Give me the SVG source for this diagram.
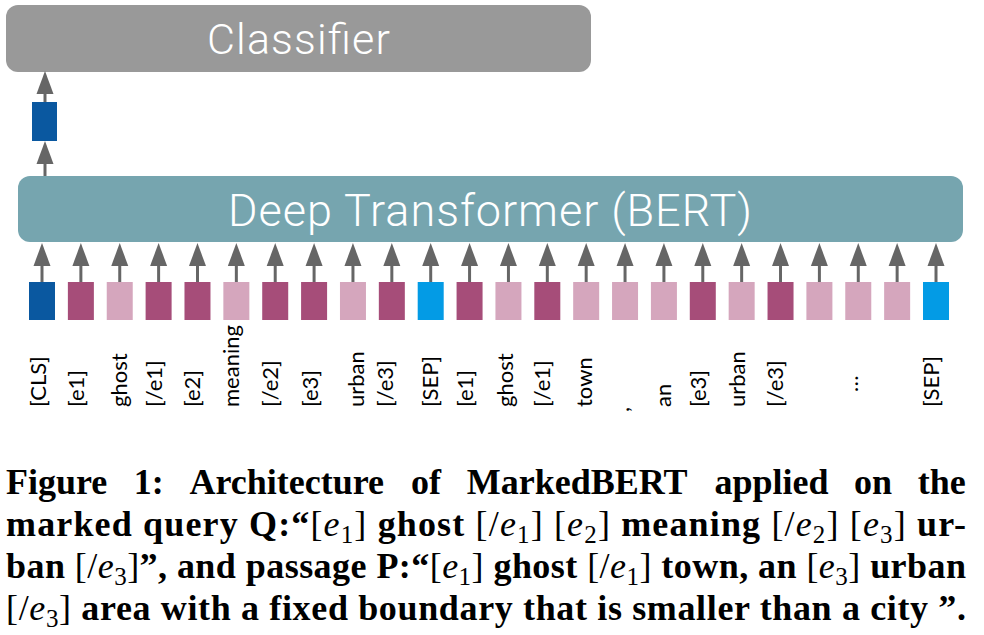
<svg xmlns="http://www.w3.org/2000/svg" width="984" height="635" viewBox="0 0 984 635">
<style>
.big{font-family:Roboto,"Liberation Sans",sans-serif;font-weight:300;fill:#ffffff;text-anchor:middle}
.tok{font-family:Lato,"Liberation Sans",sans-serif;font-size:22px;fill:#000}
.cls{fill:#0a58a0}
.ent{fill:#a64d79}
.wrd{fill:#d5a6bd}
.sep{fill:#039be5}
.arr{stroke:#666666;stroke-width:3;fill:none;marker-end:url(#ah)}
.cap{font-family:"Liberation Serif",serif;font-size:36px;font-weight:bold;fill:#000}
.m{font-weight:normal}
.mi{font-weight:normal;font-style:italic}
.sub{font-weight:normal;font-size:25px}
</style>
<defs>
<marker id="ah" markerUnits="userSpaceOnUse" markerWidth="24" markerHeight="18" viewBox="0 -9 24 18" refX="0" refY="0" orient="auto">
<path d="M0,-8.5 L23,0 L0,8.5 z" fill="#666666"/>
</marker>
</defs>
<rect width="984" height="635" fill="#ffffff"/>
<g id="classifier">
<rect x="6" y="5" width="585" height="67" rx="12" fill="#999999"/>
<text class="big" x="298.5" y="54" font-size="43" textLength="183" lengthAdjust="spacing">Classifier</text>
</g>
<g id="cls-output">
<rect x="32" y="102" width="25" height="39" class="cls"/>
</g>
<g id="transformer">
<rect x="18" y="176" width="945" height="66" rx="12" fill="#76a5af"/>
<text class="big" x="490" y="226" font-size="45" textLength="524" lengthAdjust="spacing">Deep Transformer (BERT)</text>
</g>
<g id="tokens">
<rect x="29" y="282" width="26" height="38" class="cls"/>
<rect x="67.87" y="282" width="26" height="38" class="ent"/>
<rect x="106.74" y="282" width="26" height="38" class="wrd"/>
<rect x="145.61" y="282" width="26" height="38" class="ent"/>
<rect x="184.48" y="282" width="26" height="38" class="ent"/>
<rect x="223.35" y="282" width="26" height="38" class="wrd"/>
<rect x="262.22" y="282" width="26" height="38" class="ent"/>
<rect x="301.09" y="282" width="26" height="38" class="ent"/>
<rect x="339.96" y="282" width="26" height="38" class="wrd"/>
<rect x="378.83" y="282" width="26" height="38" class="ent"/>
<rect x="417.7" y="282" width="26" height="38" class="sep"/>
<rect x="456.57" y="282" width="26" height="38" class="ent"/>
<rect x="495.44" y="282" width="26" height="38" class="wrd"/>
<rect x="534.31" y="282" width="26" height="38" class="ent"/>
<rect x="573.18" y="282" width="26" height="38" class="wrd"/>
<rect x="612.05" y="282" width="26" height="38" class="wrd"/>
<rect x="650.92" y="282" width="26" height="38" class="wrd"/>
<rect x="689.79" y="282" width="26" height="38" class="ent"/>
<rect x="728.66" y="282" width="26" height="38" class="wrd"/>
<rect x="767.53" y="282" width="26" height="38" class="ent"/>
<rect x="806.4" y="282" width="26" height="38" class="wrd"/>
<rect x="845.27" y="282" width="26" height="38" class="wrd"/>
<rect x="884.14" y="282" width="26" height="38" class="wrd"/>
<rect x="923.01" y="282" width="26" height="38" class="sep"/>
</g>
<g id="connectors">
<line class="arr" x1="45" y1="102" x2="45" y2="94"/>
<line class="arr" x1="45" y1="176" x2="45" y2="164"/>
<line class="arr" x1="42" y1="282" x2="42" y2="266"/>
<line class="arr" x1="80.87" y1="282" x2="80.87" y2="266"/>
<line class="arr" x1="119.74" y1="282" x2="119.74" y2="266"/>
<line class="arr" x1="158.61" y1="282" x2="158.61" y2="266"/>
<line class="arr" x1="197.48" y1="282" x2="197.48" y2="266"/>
<line class="arr" x1="236.35" y1="282" x2="236.35" y2="266"/>
<line class="arr" x1="275.22" y1="282" x2="275.22" y2="266"/>
<line class="arr" x1="314.09" y1="282" x2="314.09" y2="266"/>
<line class="arr" x1="352.96" y1="282" x2="352.96" y2="266"/>
<line class="arr" x1="391.83" y1="282" x2="391.83" y2="266"/>
<line class="arr" x1="430.7" y1="282" x2="430.7" y2="266"/>
<line class="arr" x1="469.57" y1="282" x2="469.57" y2="266"/>
<line class="arr" x1="508.44" y1="282" x2="508.44" y2="266"/>
<line class="arr" x1="547.31" y1="282" x2="547.31" y2="266"/>
<line class="arr" x1="586.18" y1="282" x2="586.18" y2="266"/>
<line class="arr" x1="625.05" y1="282" x2="625.05" y2="266"/>
<line class="arr" x1="663.92" y1="282" x2="663.92" y2="266"/>
<line class="arr" x1="702.79" y1="282" x2="702.79" y2="266"/>
<line class="arr" x1="741.66" y1="282" x2="741.66" y2="266"/>
<line class="arr" x1="780.53" y1="282" x2="780.53" y2="266"/>
<line class="arr" x1="819.4" y1="282" x2="819.4" y2="266"/>
<line class="arr" x1="858.27" y1="282" x2="858.27" y2="266"/>
<line class="arr" x1="897.14" y1="282" x2="897.14" y2="266"/>
<line class="arr" x1="936.01" y1="282" x2="936.01" y2="266"/>
</g>
<g id="token-labels">
<text class="tok" transform="translate(46,407) rotate(-90)">[CLS]</text>
<text class="tok" transform="translate(84,407) rotate(-90)">[e1]</text>
<text class="tok" transform="translate(127,407) rotate(-90)">ghost</text>
<text class="tok" transform="translate(162,407) rotate(-90)">[/e1]</text>
<text class="tok" transform="translate(200,407) rotate(-90)">[e2]</text>
<text class="tok" transform="translate(239,407) rotate(-90)">meaning</text>
<text class="tok" transform="translate(278,407) rotate(-90)">[/e2]</text>
<text class="tok" transform="translate(318,407) rotate(-90)">[e3]</text>
<text class="tok" transform="translate(364,407) rotate(-90)">urban</text>
<text class="tok" transform="translate(393,407) rotate(-90)">[/e3]</text>
<text class="tok" transform="translate(438,407) rotate(-90)">[SEP]</text>
<text class="tok" transform="translate(473,407) rotate(-90)">[e1]</text>
<text class="tok" transform="translate(513,407) rotate(-90)">ghost</text>
<text class="tok" transform="translate(550,407) rotate(-90)">[/e1]</text>
<text class="tok" transform="translate(592,407) rotate(-90)">town</text>
<text class="tok" transform="translate(629,412) rotate(-90)">,</text>
<text class="tok" transform="translate(671,407) rotate(-90)">an</text>
<text class="tok" transform="translate(706,407) rotate(-90)">[e3]</text>
<text class="tok" transform="translate(745,407) rotate(-90)">urban</text>
<text class="tok" transform="translate(783,407) rotate(-90)">[/e3]</text>
<text class="tok" transform="translate(858,392) rotate(-90)" font-size="14">…</text>
<text class="tok" transform="translate(939,407) rotate(-90)">[SEP]</text>
</g>
<g id="caption">
<text class="cap" y="494"><tspan x="6">Figure</tspan><tspan x="133.7">1:</tspan><tspan x="189.4">Architecture</tspan><tspan x="411">of</tspan><tspan x="466.7">MarkedBERT</tspan><tspan x="714.4">applied</tspan><tspan x="854.1">on</tspan><tspan x="917.8">the</tspan></text>
<text class="cap" x="6" y="536" textLength="960" lengthAdjust="spacing">marked query Q:“<tspan class="m">[</tspan><tspan class="mi">e</tspan><tspan class="sub" dy="7">1</tspan><tspan class="m" dy="-7">]</tspan> ghost <tspan class="m">[/</tspan><tspan class="mi">e</tspan><tspan class="sub" dy="7">1</tspan><tspan class="m" dy="-7">]</tspan> <tspan class="m">[</tspan><tspan class="mi">e</tspan><tspan class="sub" dy="7">2</tspan><tspan class="m" dy="-7">]</tspan> meaning <tspan class="m">[/</tspan><tspan class="mi">e</tspan><tspan class="sub" dy="7">2</tspan><tspan class="m" dy="-7">]</tspan> <tspan class="m">[</tspan><tspan class="mi">e</tspan><tspan class="sub" dy="7">3</tspan><tspan class="m" dy="-7">]</tspan> ur-</text>
<text class="cap" x="6" y="578" textLength="960" lengthAdjust="spacing">ban <tspan class="m">[/</tspan><tspan class="mi">e</tspan><tspan class="sub" dy="7">3</tspan><tspan class="m" dy="-7">]</tspan>”, and passage P:“<tspan class="m">[</tspan><tspan class="mi">e</tspan><tspan class="sub" dy="7">1</tspan><tspan class="m" dy="-7">]</tspan> ghost <tspan class="m">[/</tspan><tspan class="mi">e</tspan><tspan class="sub" dy="7">1</tspan><tspan class="m" dy="-7">]</tspan> town, an <tspan class="m">[</tspan><tspan class="mi">e</tspan><tspan class="sub" dy="7">3</tspan><tspan class="m" dy="-7">]</tspan> urban</text>
<text class="cap" x="6" y="620" textLength="960" lengthAdjust="spacing"><tspan class="m">[/</tspan><tspan class="mi">e</tspan><tspan class="sub" dy="7">3</tspan><tspan class="m" dy="-7">]</tspan> area with a fixed boundary that is smaller than a city ”.</text>
</g>
</svg>
